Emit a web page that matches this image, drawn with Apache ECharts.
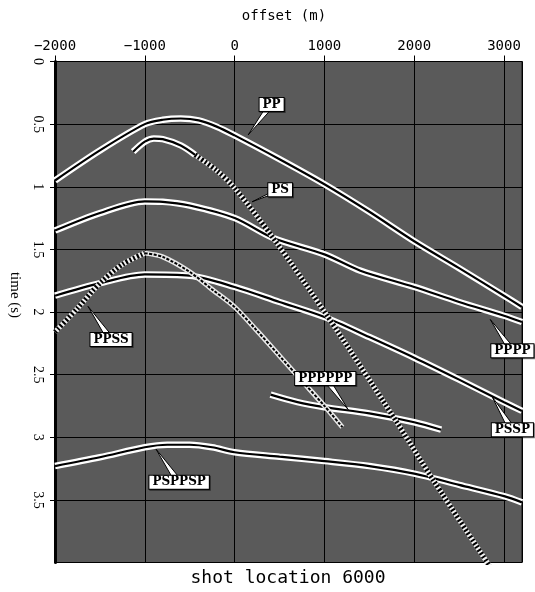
<!DOCTYPE html>
<html>
<head>
<meta charset="utf-8">
<script src="https://cdn.jsdelivr.net/npm/echarts@6/dist/echarts.min.js"></script>
<style>html,body{margin:0;padding:0;background:#fff}#c{width:535px;height:592px}</style>
</head>
<body>
<div id="c"></div>
<script>
// ---- tick labels ----
const xTicks = [-2000, -1000, 0, 1000, 2000, 3000];
const yTicks = [0, 0.5, 1, 1.5, 2, 2.5, 3, 3.5];

// ---- events: offset (m) and time (s) ----
const ppOffset = [-2000, -1500, -1000, -800, -600, -400, -200, 0, 500, 1000, 1500, 2000, 2500, 3000, 3200];
const ppTime   = [0.95, 0.71, 0.50, 0.465, 0.455, 0.47, 0.52, 0.59, 0.78, 0.98, 1.20, 1.435, 1.65, 1.87, 1.96];

const psNearOffset = [-1130, -1000, -900, -800, -600, -440];
const psNearTime   = [0.72, 0.64, 0.615, 0.62, 0.67, 0.745];
const psFarOffset  = [-440, -200, 0, 430, 1030, 1770, 2210, 2850];
const psFarTime    = [0.745, 0.87, 1.01, 1.41, 2.03, 2.84, 3.34, 4.04];

const ppppOffset = [-2000, -1500, -1000, -800, -500, 0, 430, 1000, 1400, 2000, 2500, 3000, 3200];
const ppppTime   = [1.35, 1.21, 1.117, 1.12, 1.15, 1.25, 1.41, 1.54, 1.67, 1.80, 1.92, 2.03, 2.08];

const psspOffset = [-2000, -1500, -1000, -500, 0, 500, 1000, 1500, 2000, 2500, 3000, 3200];
const psspTime   = [1.87, 1.77, 1.70, 1.71, 1.80, 1.92, 2.04, 2.20, 2.365, 2.54, 2.72, 2.79];

const ppssRiseOffset = [-2000, -1750, -1500, -1250, -1000];
const ppssRiseTime   = [2.16, 1.97, 1.77, 1.62, 1.53];
const ppssFallOffset = [-1000, -800, -500, -250, 0, 250, 500, 750, 1000, 1200];
const ppssFallTime   = [1.53, 1.56, 1.68, 1.82, 1.96, 2.15, 2.35, 2.55, 2.75, 2.92];

const p6Offset = [400, 700, 1000, 1500, 2000, 2300];
const p6Time   = [2.66, 2.72, 2.76, 2.81, 2.88, 2.94];

const pspOffset = [-2000, -1500, -1000, -750, -500, -250, 0, 500, 1000, 1500, 2000, 2500, 3000, 3200];
const pspTime   = [3.23, 3.16, 3.08, 3.06, 3.06, 3.08, 3.12, 3.155, 3.19, 3.23, 3.29, 3.38, 3.47, 3.52];

// ---- annotations ----
const labelNames = ['PP', 'PS', 'PPSS', 'PPPPPP', 'PPPP', 'PSSP', 'PSPPSP'];
const labelX = [412, 507, -1376, 1009, 3093, 3093, -618];
const labelT = [0.343, 1.024, 2.22, 2.53, 2.31, 2.94, 3.36];
const tipX   = [151, 195, -1632, 1265, 2847, 2870, -875];
const tipT   = [0.586, 1.12, 1.955, 2.78, 2.06, 2.68, 3.095];

function pairs(xs, ts) { return xs.map((x, i) => [x, ts[i]]); }

function solidBand(xs, ts) {
  const d = pairs(xs, ts);
  return [
    {type: 'line', data: d, showSymbol: false, smooth: 0.3, silent: true, z: 3,
     lineStyle: {color: '#ffffff', width: 6.5}},
    {type: 'line', data: d, showSymbol: false, smooth: 0.3, silent: true, z: 4,
     lineStyle: {color: '#000000', width: 2.2}}
  ];
}
function hatchBand(xs, ts, w) {
  const d = pairs(xs, ts);
  return [
    {type: 'line', data: d, showSymbol: false, smooth: 0.3, silent: true, z: 5,
     lineStyle: {color: '#f0f0f0', width: w}},
    {type: 'line', data: d, showSymbol: false, smooth: 0.3, silent: true, z: 6,
     lineStyle: {color: '#000000', width: w, type: [2, 2]}}
  ];
}

const series = [].concat(
  solidBand(ppOffset, ppTime),
  solidBand(ppppOffset, ppppTime),
  solidBand(psspOffset, psspTime),
  solidBand(pspOffset, pspTime),
  solidBand(p6Offset, p6Time),
  solidBand(psNearOffset, psNearTime),
  hatchBand(psFarOffset, psFarTime, 5),
  hatchBand(ppssRiseOffset, ppssRiseTime, 5),
  [
    {type: 'line', data: pairs(ppssFallOffset, ppssFallTime), showSymbol: false, smooth: 0.3, silent: true, z: 5,
     lineStyle: {color: '#e8e8e8', width: 5}},
    {type: 'line', data: pairs(ppssFallOffset, ppssFallTime), showSymbol: false, smooth: 0.3, silent: true, z: 6,
     lineStyle: {color: '#000000', width: 2, type: [3, 1.5]}}
  ],
  [{
    type: 'custom', z: 20, silent: true, clip: false,
    data: labelNames.map((n, i) => [labelX[i], labelT[i], tipX[i], tipT[i]]),
    renderItem: function (params, api) {
      const p = api.coord([api.value(0), api.value(1)]);
      const t = api.coord([api.value(2), api.value(3)]);
      const name = labelNames[params.dataIndex];
      return {
        type: 'group',
        children: [
          {type: 'polygon', shape: {points: [[p[0] - 4, p[1]], [p[0] + 4, p[1]], t]},
           style: {fill: '#ffffff', stroke: '#000000', lineWidth: 1}},
          {type: 'text', x: p[0], y: p[1],
           style: {text: name, font: 'bold 12px "DejaVu Serif"', fill: '#000', align: 'center', verticalAlign: 'middle',
                   backgroundColor: '#ffffff', borderColor: '#000000', borderWidth: 1, padding: [1, 3, 0, 3],
                   shadowColor: 'rgba(0,0,0,0.5)', shadowOffsetX: 1, shadowOffsetY: 1}}
        ]
      };
    }
  }]
);

const chart = echarts.init(document.getElementById('c'), null, {renderer: 'canvas'});
chart.setOption({
  animation: false,
  backgroundColor: '#ffffff',
  grid: {left: 55, right: 13, top: 61.5, bottom: 29.5, show: true, backgroundColor: '#5a5a5a',
         borderColor: '#111', borderWidth: 1},
  xAxis: {
    type: 'value', position: 'top', min: -2000, max: 3200, interval: 1000,
    axisLine: {show: true, onZero: false, lineStyle: {color: '#000', width: 1}},
    axisTick: {show: true, length: 6, lineStyle: {color: '#000'}},
    splitLine: {show: true, lineStyle: {color: '#000', width: 1}},
    axisLabel: {
      margin: 8, color: '#000', fontFamily: 'DejaVu Sans Mono', fontSize: 14, showMaxLabel: false,
      formatter: v => xTicks.indexOf(v) >= 0 ? String(v).replace('-', '\u2212') : ''
    }
  },
  yAxis: {
    type: 'value', inverse: true, min: 0, max: 4, interval: 0.5,
    axisLine: {show: true, onZero: false, lineStyle: {color: '#000', width: 3}},
    axisTick: {show: true, length: 5, lineStyle: {color: '#000'}},
    splitLine: {show: true, lineStyle: {color: '#000', width: 1}},
    axisLabel: {
      margin: 10, rotate: -90, color: '#000', fontFamily: 'Liberation Serif', fontSize: 14, showMaxLabel: false,
      formatter: v => yTicks.indexOf(v) >= 0 ? String(v) : ''
    }
  },
  graphic: [
    {type: 'text', x: 284, y: 16, style: {text: 'offset (m)', font: '14px "DejaVu Sans Mono"', fill: '#000', align: 'center', verticalAlign: 'middle'}},
    {type: 'text', x: 15, y: 295, rotation: -Math.PI / 2,
     style: {text: 'time (s)', font: '15px "Liberation Serif"', fill: '#000', align: 'center', verticalAlign: 'middle'}},
    {type: 'text', x: 288, y: 578, style: {text: 'shot location 6000', font: '18px "DejaVu Sans Mono"', fill: '#000', align: 'center', verticalAlign: 'middle'}}
  ],
  series: series
});
</script>
</body>
</html>
